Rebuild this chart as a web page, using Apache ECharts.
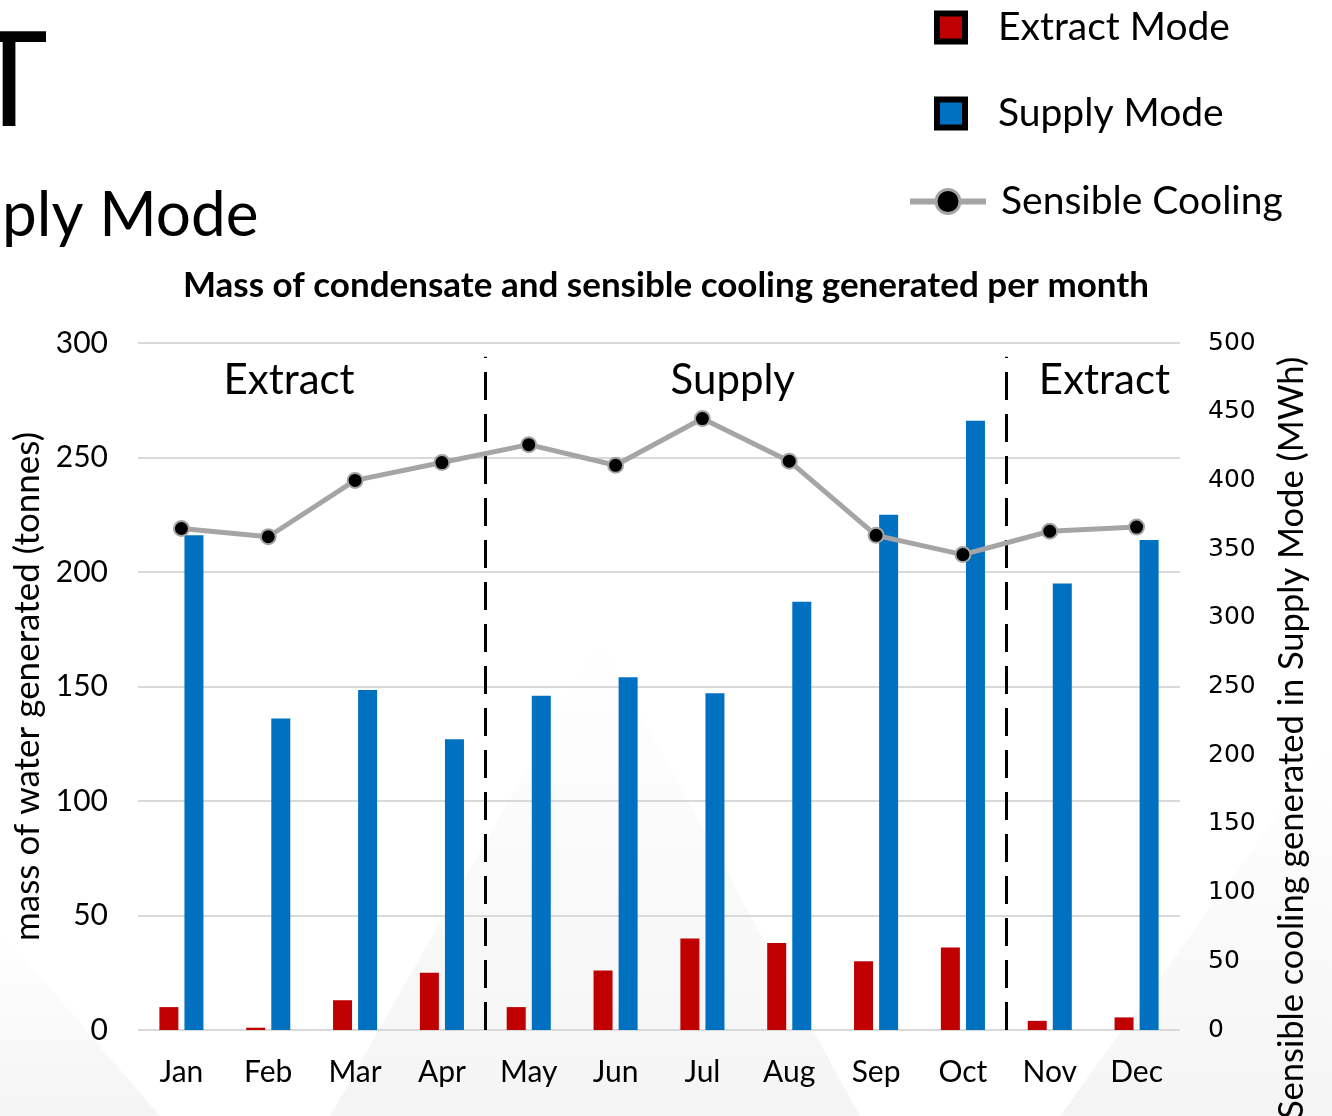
<!DOCTYPE html>
<html>
<head>
<meta charset="utf-8">
<script src="https://cdn.jsdelivr.net/npm/echarts@6/dist/echarts.min.js"></script>
<style>
  html, body { margin: 0; padding: 0; background: #fff; }
  #chart { width: 1332px; height: 1116px; }
</style>
</head>
<body>
<div id="chart"></div>
<script>
// values
const months = ['Jan', 'Feb', 'Mar', 'Apr', 'May', 'Jun', 'Jul', 'Aug', 'Sep', 'Oct', 'Nov', 'Dec'];
const extractMode = [10, 1, 13, 25, 10, 26, 40, 38, 30, 36, 4, 5.5];
const supplyMode = [216, 136, 148.5, 127, 146, 154, 147, 187, 225, 266, 195, 214];
const sensibleCooling = [365, 359, 400, 413, 426, 411, 445, 414, 360, 346, 363, 366];
const leftTicks = { min: 0, max: 300, step: 50 };
const rightTicks = { min: 0, max: 500, step: 50 };
// mode boundaries, in month units (Apr|May and Oct|Nov)
const modeBreaks = [4, 10];
const modeLabels = [
  { text: 'Extract', at: 1.74 },
  { text: 'Supply', at: 6.85 },
  { text: 'Extract', at: 11.13 },
];

const FONT = 'Lato';
const chart = echarts.init(document.getElementById('chart'), null, { renderer: 'canvas' });

const gridLeft = 138, gridRight = 152, gridTop = 343, gridBottom = 86;
const plotW = 1332 - gridLeft - gridRight;

const legendText = { fontFamily: FONT, fontSize: 39, color: '#000', lineHeight: 36 };
const boxLegend = (name, top) => ({
  data: [name],
  left: 934, top: top, orient: 'vertical', padding: 0,
  itemWidth: 28, itemHeight: 28, icon: 'rect',
  itemStyle: { borderColor: '#000', borderWidth: 6 },
  textStyle: Object.assign({ padding: [0, 0, 0, 28] }, legendText),
});

// faint slide-background shading behind the plot
const bgShapes = [
  [[0, 1116], [0, 930], [160, 1116]],
  [[330, 1116], [600, 640], [860, 1116]],
  [[1060, 1116], [1332, 740], [1332, 1116]],
];
const bgFill = new echarts.graphic.LinearGradient(0, 0, 0, 1, [
  { offset: 0, color: 'rgba(236,236,236,0)' },
  { offset: 1, color: 'rgba(236,236,236,0.55)' },
]);

const option = {
  backgroundColor: '#ffffff',
  animation: false,
  textStyle: { fontFamily: FONT },
  title: {
    text: 'Mass of condensate and sensible cooling generated per month',
    left: 'center',
    top: 263,
    textStyle: { fontFamily: FONT, fontSize: 35, fontWeight: 'bold', color: '#000' },
  },
  legend: [
    boxLegend('Extract Mode', 8),
    boxLegend('Supply Mode', 94),
    {
      data: ['Sensible Cooling'],
      left: 907, top: 182, orient: 'vertical', padding: 0,
      itemWidth: 76, itemHeight: 30,
      lineStyle: { color: '#a5a5a5', width: 6 },
      itemStyle: { color: '#000', borderColor: '#a5a5a5', borderWidth: 3 },
      textStyle: Object.assign({ padding: [0, 0, 0, 10] }, legendText),
    },
  ],
  grid: { left: gridLeft, right: gridRight, top: gridTop, bottom: gridBottom },
  xAxis: [
    {
      type: 'category',
      data: months,
      axisLine: { show: false },
      axisTick: { show: false },
      axisLabel: { fontFamily: FONT, fontSize: 30, color: '#000', margin: 27 },
    },
    { type: 'value', min: 0, max: months.length, show: false },
  ],
  yAxis: [
    {
      type: 'value',
      min: leftTicks.min, max: leftTicks.max, interval: leftTicks.step,
      name: 'mass of water generated (tonnes)',
      nameLocation: 'middle',
      nameGap: 90,
      nameRotate: 90,
      nameTextStyle: { fontFamily: FONT, fontSize: 35, color: '#000' },
      axisLine: { show: false },
      axisTick: { show: false },
      axisLabel: { fontFamily: FONT, fontSize: 30, color: '#000', margin: 30 },
      splitLine: { lineStyle: { color: '#d9d9d9', width: 2 } },
    },
    {
      type: 'value',
      min: rightTicks.min, max: rightTicks.max, interval: rightTicks.step,
      position: 'right',
      axisLine: { show: false },
      axisTick: { show: false },
      axisLabel: { fontFamily: 'DejaVu Sans', fontSize: 25, color: '#000', margin: 28 },
      splitLine: { show: false },
    },
  ],
  graphic: bgShapes.map(pts => ({
    type: 'polygon', z: -10, silent: true,
    shape: { points: pts },
    style: { fill: bgFill },
  })).concat([
    { type: 'text', left: -30, top: 17, style: { text: 'T', font: '132px ' + FONT, fill: '#000' } },
    { type: 'text', left: 2, top: 185, style: { text: 'ply Mode', font: '62px ' + FONT, fill: '#000' } },
    {
      type: 'text',
      x: 1292, y: 738,
      rotation: Math.PI / 2,
      style: {
        text: 'Sensible cooling generated in Supply Mode (MWh)',
        font: '34.5px ' + FONT, fill: '#000',
        align: 'center', verticalAlign: 'middle',
      },
    },
  ]).concat(modeLabels.map(m => ({
    type: 'text',
    x: gridLeft + plotW * m.at / months.length,
    y: 380,
    style: { text: m.text, font: '42px ' + FONT, fill: '#000', align: 'center', verticalAlign: 'middle' },
  }))),
  series: [
    {
      name: 'Extract Mode',
      type: 'bar',
      data: extractMode,
      barWidth: 19,
      barGap: '32%',
      itemStyle: { color: '#c00000' },
    },
    {
      name: 'Supply Mode',
      type: 'bar',
      data: supplyMode,
      barWidth: 19,
      barGap: '32%',
      itemStyle: { color: '#0070c0' },
    },
    {
      name: 'Sensible Cooling',
      type: 'line',
      yAxisIndex: 1,
      data: sensibleCooling,
      symbol: 'circle',
      symbolSize: 15,
      lineStyle: { color: '#a5a5a5', width: 5 },
      itemStyle: { color: '#000', borderColor: '#a5a5a5', borderWidth: 2 },
      z: 5,
    },
    {
      name: 'modeBreaks',
      type: 'line',
      xAxisIndex: 1,
      yAxisIndex: 0,
      data: [],
      markLine: {
        silent: true,
        symbol: 'none',
        label: { show: false },
        lineStyle: { color: '#000', width: 3, type: [28, 14] },
        data: modeBreaks.map(b => [{ coord: [b, 0] }, { coord: [b, 294] }]),
      },
    },
  ],
};

chart.setOption(option);
</script>
</body>
</html>
